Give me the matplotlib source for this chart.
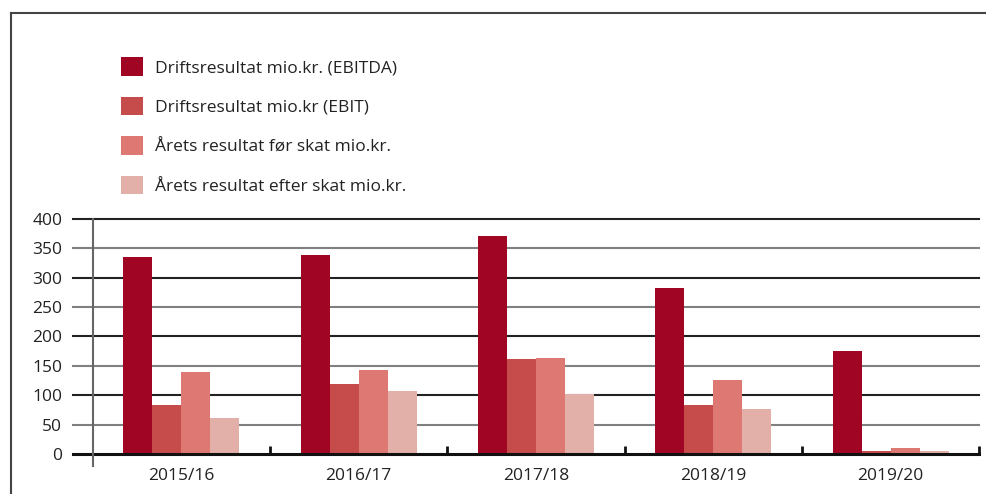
import matplotlib.pyplot as plt
import numpy as np
from matplotlib.lines import Line2D

plt.rcParams['font.family'] = ['Open Sans', 'DejaVu Sans']
plt.rcParams['font.size'] = 12.5

# data
years = ["2015/16", "2016/17", "2017/18", "2018/19", "2019/20"]
ebitda = [335, 338, 371, 282, 175]
ebit = [83, 119, 161, 83, 5]
foer_skat = [139, 143, 163, 126, 10]
efter_skat = [61, 107, 102, 76, 5]

series = [ebitda, ebit, foer_skat, efter_skat]
labels = ["Driftsresultat mio.kr. (EBITDA)", "Driftsresultat mio.kr (EBIT)",
          "Årets resultat før skat mio.kr.", "Årets resultat efter skat mio.kr."]
colors = ["#A00623", "#C64B4B", "#DD7872", "#E2B0A9"]

fig = plt.figure(figsize=(9.86, 4.94), dpi=100)
ax = fig.add_axes([92.7 / 986, 1 - 454 / 494, (979.3 - 92.7) / 986, (454 - 218.7) / 494])

x = np.arange(len(years))
w = 0.1636
bars = []
for i, (vals, c, lab) in enumerate(zip(series, colors, labels)):
    b = ax.bar(x + (i - 1.5) * w, vals, w, color=c, label=lab, zorder=3)
    bars.append(b)

ax.set_xlim(-0.5, len(years) - 0.5)
ax.set_ylim(0, 400)

# gridlines, extending left of the axis like ticks
yt = np.arange(0, 401, 50)
for v in yt[1:]:
    col = "#222222" if v % 100 == 0 else "#808080"
    ax.plot([-0.0222, 1], [v, v], color=col, lw=1.5,
            transform=ax.get_yaxis_transform(), clip_on=False, zorder=1)
ax.plot([-0.0222, 1], [0, 0], color="#111111", lw=2.2,
        transform=ax.get_yaxis_transform(), clip_on=False, zorder=4)
# left axis line running below zero
ax.plot([0, 0], [-0.05, 1], color="#666666", lw=1.5,
        transform=ax.transAxes, clip_on=False, zorder=4)

for s in ax.spines.values():
    s.set_visible(False)

ax.set_yticks(yt)
ax.tick_params(axis='y', length=0, pad=22, labelsize=12.5, labelcolor="#222222")
ax.set_xticks(x)
ax.set_xticklabels(years)
ax.tick_params(axis='x', length=0, pad=10, labelsize=12.5, labelcolor="#222222")
ax.set_xticks(np.arange(0.5, len(years), 1), minor=True)
ax.tick_params(axis='x', which='minor', direction='in', length=6, width=2, color="#111111")

# frame around the figure
fig.add_artist(Line2D([11 / 986, 1], [1 - 13 / 494, 1 - 13 / 494], color="#444444", lw=1.5))
fig.add_artist(Line2D([11 / 986, 11 / 986], [0, 1 - 13 / 494], color="#444444", lw=1.5))

ax.legend(handles=bars, loc='upper left', bbox_to_anchor=(121 / 986, 1 - 57 / 494),
          bbox_transform=fig.transFigure, frameon=False, borderpad=0, borderaxespad=0,
          handlelength=1.27, handleheight=1.27, handletextpad=0.69, labelspacing=1.18,
          fontsize=12.5, labelcolor="#222222")

fig.savefig("out.png", dpi=100)
